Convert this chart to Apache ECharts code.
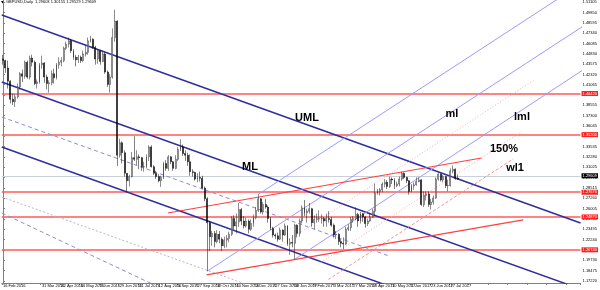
<!DOCTYPE html>
<html><head><meta charset="utf-8">
<script src="https://cdn.jsdelivr.net/npm/echarts@6/dist/echarts.min.js"></script>
<style>html,body{margin:0;padding:0;background:#fff}#c{width:600px;height:290px}</style>
</head><body><div id="c"></div>
<script>
// ---- DATA ----
const header = "GBPUSD,Daily  1.29603 1.30155 1.29529 1.29609";
const xLabels = ["16 Feb 2016","9 Mar 2016","31 Mar 2016","22 Apr 2016","16 May 2016","7 Jun 2016","29 Jun 2016","21 Jul 2016","12 Aug 2016","5 Sep 2016","27 Sep 2016","19 Oct 2016","10 Nov 2016","2 Dec 2016","27 Dec 2016","18 Jan 2017","9 Feb 2017","3 Mar 2017","27 Mar 2017","18 Apr 2017","10 May 2017","1 Jun 2017","23 Jun 2017","17 Jul 2017"];
const totalSlots = 238;
// two-day candles: [open, close, low, high]
const ohlc = [
[1.4420,1.4400,1.4350,1.4470],[1.4400,1.4310,1.4250,1.4410],[1.4310,1.4150,1.4060,1.4400],[1.4150,1.3930,1.3880,1.4160],[1.3930,1.3900,1.3860,1.4000],
[1.3900,1.3960,1.3835,1.3990],[1.3960,1.4080,1.3940,1.4120],[1.4080,1.4240,1.4050,1.4260],[1.4240,1.4210,1.4140,1.4290],[1.4210,1.4380,1.4180,1.4400],
[1.4380,1.4200,1.4180,1.4400],[1.4200,1.4430,1.4170,1.4460],[1.4430,1.4380,1.4330,1.4470],[1.4380,1.4120,1.4100,1.4400],[1.4120,1.4140,1.4060,1.4170],
[1.4140,1.4350,1.4120,1.4370],[1.4350,1.4370,1.4300,1.4460],[1.4370,1.4200,1.4130,1.4380],[1.4200,1.4120,1.4050,1.4230],[1.4120,1.4130,1.4010,1.4160],
[1.4130,1.4240,1.4100,1.4280],[1.4240,1.4190,1.4120,1.4300],[1.4190,1.4350,1.4170,1.4370],[1.4350,1.4380,1.4300,1.4440],[1.4380,1.4400,1.4330,1.4440],
[1.4400,1.4550,1.4380,1.4570],[1.4550,1.4600,1.4530,1.4630],[1.4600,1.4640,1.4560,1.4680],[1.4640,1.4520,1.4490,1.4660],[1.4520,1.4440,1.4410,1.4540],
[1.4440,1.4410,1.4330,1.4470],[1.4410,1.4440,1.4370,1.4470],[1.4440,1.4400,1.4370,1.4460],[1.4400,1.4480,1.4380,1.4520],[1.4480,1.4500,1.4450,1.4590],
[1.4500,1.4640,1.4470,1.4680],[1.4640,1.4660,1.4620,1.4700],[1.4660,1.4560,1.4540,1.4670],[1.4560,1.4420,1.4350,1.4580],[1.4420,1.4520,1.4360,1.4540],
[1.4520,1.4390,1.4350,1.4530],[1.4390,1.4480,1.4380,1.4510],[1.4480,1.4260,1.4240,1.4500],[1.4260,1.4110,1.4080,1.4280],[1.4110,1.4200,1.4010,1.4240],
[1.4200,1.4680,1.4180,1.4790],[1.4680,1.4880,1.4630,1.5018],[1.4880,1.3250,1.3120,1.4890],[1.3250,1.3400,1.3220,1.3450],[1.3400,1.3280,1.3150,1.3420],
[1.3280,1.3030,1.2990,1.3310],[1.3030,1.2940,1.2798,1.3030],[1.2940,1.2990,1.2870,1.3010],[1.2990,1.3220,1.2980,1.3290],[1.3220,1.3200,1.3180,1.3480],
[1.3200,1.3230,1.3130,1.3310],[1.3230,1.3220,1.3080,1.3260],[1.3220,1.3110,1.3060,1.3230],[1.3110,1.3110,1.3050,1.3170],[1.3110,1.3230,1.3090,1.3260],
[1.3230,1.3350,1.3180,1.3370],[1.3350,1.3110,1.3100,1.3370],[1.3110,1.3030,1.3010,1.3130],[1.3030,1.2990,1.2960,1.3060],[1.2990,1.2940,1.2920,1.3020],
[1.2940,1.2980,1.2865,1.3000],[1.2980,1.3150,1.2960,1.3170],[1.3150,1.3090,1.3060,1.3190],[1.3090,1.3230,1.3060,1.3250],[1.3230,1.3170,1.3140,1.3240],
[1.3170,1.3090,1.3060,1.3180],[1.3090,1.3200,1.3080,1.3250],[1.3200,1.3320,1.3180,1.3350],[1.3320,1.3350,1.3300,1.3444],[1.3350,1.3270,1.3240,1.3380],
[1.3270,1.3250,1.3180,1.3310],[1.3250,1.3170,1.3120,1.3280],[1.3170,1.3050,1.3000,1.3260],[1.3050,1.3040,1.2990,1.3080],[1.3040,1.2960,1.2940,1.3050],
[1.2960,1.2980,1.2920,1.3030],[1.2980,1.2970,1.2930,1.3050],[1.2970,1.2850,1.2840,1.3000],[1.2850,1.2720,1.2690,1.2870],[1.2720,1.2430,1.1841,1.2740],
[1.2430,1.2260,1.2087,1.2450],[1.2260,1.2300,1.2150,1.2330],[1.2300,1.2200,1.2130,1.2330],[1.2200,1.2290,1.2180,1.2340],[1.2290,1.2230,1.2180,1.2330],
[1.2230,1.2150,1.2085,1.2250],[1.2150,1.2220,1.2120,1.2260],[1.2220,1.2240,1.2130,1.2280],[1.2240,1.2290,1.2190,1.2320],[1.2290,1.2480,1.2270,1.2510],
[1.2480,1.2390,1.2350,1.2520],[1.2390,1.2440,1.2300,1.2540],[1.2440,1.2590,1.2380,1.2670],[1.2590,1.2450,1.2400,1.2610],[1.2450,1.2390,1.2360,1.2510],
[1.2390,1.2450,1.2370,1.2490],[1.2450,1.2350,1.2300,1.2470],[1.2350,1.2420,1.2330,1.2470],[1.2420,1.2490,1.2380,1.2530],[1.2490,1.2580,1.2470,1.2620],
[1.2580,1.2720,1.2560,1.2775],[1.2720,1.2560,1.2540,1.2730],[1.2560,1.2650,1.2530,1.2680],[1.2650,1.2620,1.2600,1.2720],[1.2620,1.2480,1.2430,1.2640],
[1.2480,1.2360,1.2340,1.2500],[1.2360,1.2280,1.2250,1.2380],[1.2280,1.2270,1.2230,1.2300],[1.2270,1.2230,1.2200,1.2310],[1.2230,1.2340,1.2220,1.2370],
[1.2340,1.2280,1.2200,1.2350],[1.2280,1.2390,1.2270,1.2420],[1.2390,1.2170,1.2150,1.2400],[1.2170,1.2190,1.2040,1.2240],[1.2190,1.2180,1.2130,1.2280],
[1.2180,1.2400,1.1986,1.2417],[1.2400,1.2300,1.2250,1.2410],[1.2300,1.2450,1.2260,1.2480],[1.2450,1.2610,1.2420,1.2640],[1.2610,1.2550,1.2510,1.2706],
[1.2550,1.2570,1.2430,1.2600],[1.2570,1.2600,1.2540,1.2670],[1.2600,1.2430,1.2380,1.2610],[1.2430,1.2470,1.2350,1.2520],[1.2470,1.2480,1.2430,1.2540],
[1.2480,1.2480,1.2440,1.2580],[1.2480,1.2480,1.2420,1.2530],[1.2480,1.2450,1.2380,1.2500],[1.2450,1.2480,1.2380,1.2540],[1.2480,1.2470,1.2430,1.2570],
[1.2470,1.2400,1.2380,1.2500],[1.2400,1.2280,1.2250,1.2420],[1.2280,1.2290,1.2230,1.2330],[1.2290,1.2200,1.2160,1.2300],[1.2200,1.2180,1.2130,1.2230],
[1.2180,1.2170,1.2109,1.2250],[1.2170,1.2350,1.2160,1.2380],[1.2350,1.2370,1.2330,1.2410],[1.2370,1.2470,1.2330,1.2500],[1.2470,1.2480,1.2430,1.2510],
[1.2480,1.2530,1.2460,1.2615],[1.2530,1.2450,1.2380,1.2550],[1.2450,1.2540,1.2420,1.2560],[1.2540,1.2500,1.2440,1.2550],[1.2500,1.2420,1.2370,1.2510],
[1.2420,1.2450,1.2390,1.2480],[1.2450,1.2500,1.2440,1.2550],[1.2500,1.2570,1.2490,1.2600],[1.2570,1.2790,1.2510,1.2905],[1.2790,1.2810,1.2770,1.2840],
[1.2810,1.2830,1.2760,1.2850],[1.2830,1.2900,1.2800,1.2920],[1.2900,1.2920,1.2860,1.2960],[1.2920,1.2870,1.2840,1.2950],[1.2870,1.2960,1.2850,1.2990],
[1.2960,1.2950,1.2900,1.2980],[1.2950,1.2880,1.2840,1.2970],[1.2880,1.2900,1.2860,1.2930],[1.2900,1.2960,1.2870,1.2990],[1.2960,1.3030,1.2940,1.3048],
[1.3030,1.2980,1.2960,1.3040],[1.2980,1.2940,1.2910,1.2990],[1.2940,1.2810,1.2770,1.2950],[1.2810,1.2880,1.2800,1.2900],[1.2880,1.2890,1.2830,1.2920],
[1.2890,1.2930,1.2880,1.2980],[1.2930,1.2950,1.2920,1.2980],[1.2950,1.2650,1.2635,1.2960],[1.2650,1.2760,1.2620,1.2810],[1.2760,1.2780,1.2700,1.2810],
[1.2780,1.2650,1.2620,1.2810],[1.2650,1.2680,1.2589,1.2720],[1.2680,1.2730,1.2650,1.2760],[1.2730,1.2960,1.2720,1.2980],[1.2960,1.3020,1.2940,1.3030],
[1.3020,1.2950,1.2930,1.3030],[1.2950,1.2990,1.2920,1.3010],[1.2990,1.2880,1.2850,1.3000],[1.2880,1.2880,1.2810,1.2950],[1.2880,1.3060,1.2870,1.3090],
[1.3060,1.3080,1.3030,1.3126],[1.3080,1.2970,1.2950,1.3090],[1.2970,1.2961,1.2953,1.3015]
];
const yTicks = [1.17220,1.18475,1.19730,1.20985,1.22240,1.23495,1.24750,1.26005,1.27260,1.28515,1.29770,1.31025,1.32280,1.33535,1.34790,1.36045,1.37300,1.38555,1.39810,1.41065,1.42320,1.43575,1.44830,1.46085,1.47340,1.48595,1.49850,1.51105];
const redLevels = [1.4042, 1.3520, 1.2767, 1.2487, 1.2074];
const currentPrice = 1.29609;
// trend lines: [[barIndex, price], [barIndex, price]]
const umlLine  = [[-0.5,1.4954],[237.5,1.2426]];
const mlLine   = [[-0.5,1.4140],[237.5,1.1624]];
const lowerLine= [[-0.5,1.3350],[237.5,1.0823]];
const halfDash = [[-0.5,1.3714],[158.2,1.2031]];
const lowDot   = [[-0.5,1.2742],[121.5,1.1454]];
const lowDash2 = [[-0.5,1.2548],[66.6,1.1612]];
const upTine   = [[105,1.2775],[243.6,1.5446]];
const midTine  = [[84,1.1841],[243.6,1.4915]];
const lowTine  = [[120,1.1986],[243.6,1.4385]];
const half50   = [[109.3,1.2063],[218.4,1.4164]];
const half150  = [[129.7,1.1926],[213.1,1.3532]];
const warn1    = [[133.8,1.1740],[209.8,1.3205]];
const redUp1   = [[67.8,1.2548],[196.8,1.3216]];
const redUp2   = [[83.7,1.1795],[213.9,1.2463]];
const notes = [["UML",307,118],["ML",250,167],["ml",452,114],["lml",522,117],["150%",504,149],["wl1",515,168]];

// ---- CHART ----
const chart = echarts.init(document.getElementById('c'), null, {renderer:'canvas'});
const cats = Array.from({length: totalSlots}, (_, i) => String(i));
function seg(data, color, width, type, z) {
  return {type:'line', xAxisIndex:1, yAxisIndex:0, data:data, symbol:'none', silent:true, clip:true,
    lineStyle:{color:color, width:width, type:type||'solid'}, z:z||3, animation:false};
}
const hl = redLevels.map(v => ({yAxis:v, lineStyle:{color:'#ff5a5a', width:1.5, type:'solid'},
  label:{show:true, position:'end', distance:1, formatter: v.toFixed(5), color:'#fff', backgroundColor:'#ff2020', fontSize:4, padding:[1,1,0,1], fontFamily:'Arial'}}));
hl.push({yAxis:currentPrice, lineStyle:{color:'#c8d0d8', width:1, type:'solid'},
  label:{show:true, position:'end', distance:1, formatter: currentPrice.toFixed(5), color:'#fff', backgroundColor:'#000', fontSize:4, padding:[1,1,0,1], fontFamily:'Arial'}});

const option = {
  backgroundColor:'#ffffff',
  animation:false,
  grid:{left:0, right:15, top:0, bottom:7, containLabel:false},
  xAxis:[
    {type:'category', data:cats, boundaryGap:true,
     axisLine:{show:true, lineStyle:{color:'#808080', width:1}},
     axisTick:{show:true, interval:7, length:2, lineStyle:{color:'#808080'}},
     axisLabel:{show:true, interval:7, showMinLabel:true, hideOverlap:false, fontSize:4, color:'#000', margin:1, align:'left', fontFamily:'Arial',
       formatter:(v, i) => xLabels[Math.round(i/8)] || ''},
     splitLine:{show:false}},
    {type:'value', min:-0.5, max:totalSlots-0.5, show:false}
  ],
  yAxis:[{type:'value', position:'right', min:1.1697, max:1.5136, scale:true,
    axisLine:{show:true, lineStyle:{color:'#808080', width:1}},
    axisTick:{show:true, length:2, customValues:yTicks, lineStyle:{color:'#808080'}},
    axisLabel:{show:true, customValues:yTicks, fontSize:4, color:'#000', margin:2, fontFamily:'Arial', formatter:v => v.toFixed(5)},
    splitLine:{show:false}}],
  series:[
    {type:'candlestick', xAxisIndex:0, yAxisIndex:0, data:ohlc, barWidth:1.4, z:5,
     itemStyle:{color:'#ffffff', color0:'#000000', borderColor:'#1a1a1a', borderColor0:'#000000', borderWidth:0.5},
     markLine:{silent:true, symbol:['none','none'], animation:false, z:2, data:hl}},
    seg(umlLine,'#2e2e9e',1.5),
    seg(mlLine,'#2e2e9e',1.5),
    seg(lowerLine,'#2e2e9e',1.5),
    seg(halfDash,'#8c8cd0',1,[4,3]),
    seg(lowDot,'#b4b4e4',1,[2,2]),
    seg(lowDash2,'#8c8cd0',1,[4,3]),
    seg(upTine,'#9a9aff',1),
    seg(midTine,'#9a9aff',1),
    seg(lowTine,'#9a9aff',1),
    seg(half50,'#ffaaaa',1,[1,2]),
    seg(half150,'#ffaaaa',1,[1,2]),
    seg(warn1,'#ff9090',1,[3,2]),
    seg(redUp1,'#ff4040',1.2),
    seg(redUp2,'#ff4040',1.2)
  ],
  graphic:[
    {type:'polygon', shape:{points:[[1,1],[4,1],[2.5,3.5]]}, style:{fill:'#000'}},
    {type:'text', left:6, top:0, style:{text:header, font:'4px Arial', fill:'#000'}}
  ].concat(notes.map(n => ({type:'text', x:n[1], y:n[2], z:20,
    style:{text:n[0], font:'bold 11px Arial', fill:'#000', align:'center', verticalAlign:'middle'}})))
};
chart.setOption(option);
</script></body></html>
